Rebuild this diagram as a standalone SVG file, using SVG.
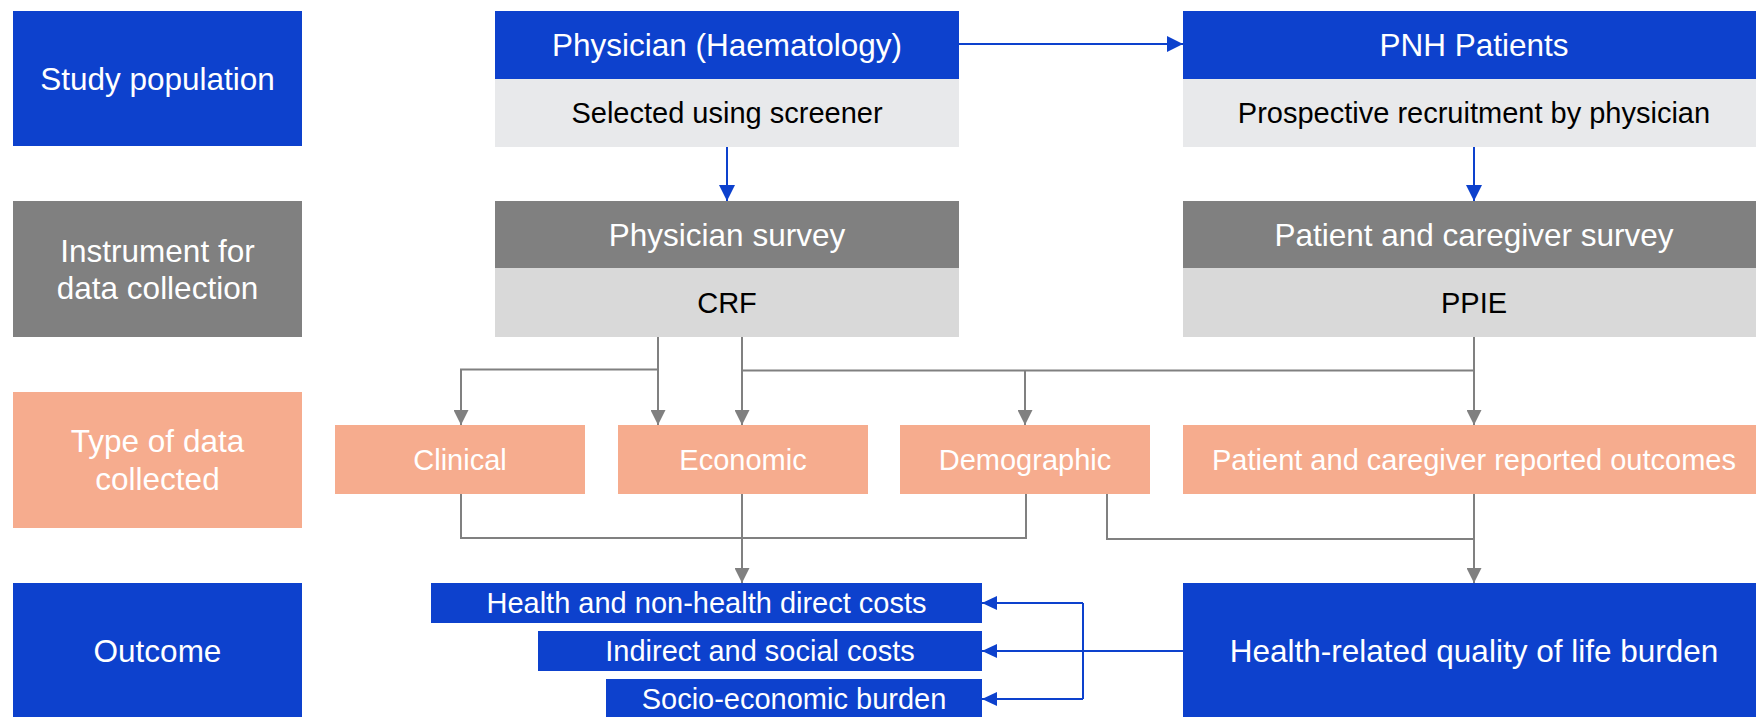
<svg xmlns="http://www.w3.org/2000/svg" width="1756" height="717" viewBox="0 0 1756 717">
  <style>
    text { font-family: "Liberation Sans", Arial, Helvetica, sans-serif; text-anchor: middle; }
    .blue { fill: #0D41CD; }
    .dark { fill: #808080; }
    .pale { fill: #E8E9EB; }
    .light { fill: #D9D9D9; }
    .salmon { fill: #F6AC8E; }
    .hd { font-size: 31.5px; fill: #FFFFFF; }
    .sub { font-size: 29px; fill: #000000; }
    .cat { font-size: 29px; fill: #FFFFFF; }
    .gline { fill: none; stroke: #808080; stroke-width: 2; }
    .bline { fill: none; stroke: #0D41CD; stroke-width: 2; }
  </style>
  <defs>
    <marker id="arrGray" markerUnits="userSpaceOnUse" markerWidth="15" markerHeight="15" refX="15" refY="7.5" orient="auto">
      <path d="M0,0 L15,7.5 L0,15 z" fill="#808080"/>
    </marker>
    <marker id="arrBlue" markerUnits="userSpaceOnUse" markerWidth="16" markerHeight="16" refX="16" refY="8" orient="auto">
      <path d="M0,0 L16,8 L0,16 z" fill="#0D41CD"/>
    </marker>
    <marker id="arrBlueSm" markerUnits="userSpaceOnUse" markerWidth="15" markerHeight="14" refX="15" refY="7" orient="auto">
      <path d="M0,0 L15,7 L0,14 z" fill="#0D41CD"/>
    </marker>
  </defs>

  <rect width="1756" height="717" fill="#FFFFFF"/>

  <!-- Row labels -->
  <g id="label-study-population">
    <rect class="blue" x="13" y="11" width="289" height="135"/>
    <text class="hd" x="157.5" y="89.5">Study population</text>
  </g>
  <g id="label-instrument">
    <rect class="dark" x="13" y="201" width="289" height="136"/>
    <text class="hd" x="157.5" y="261.5">Instrument for</text>
    <text class="hd" x="157.5" y="298.8">data collection</text>
  </g>
  <g id="label-data-type">
    <rect class="salmon" x="13" y="392" width="289" height="136"/>
    <text class="hd" x="157.5" y="452.3">Type of data</text>
    <text class="hd" x="157.5" y="489.8">collected</text>
  </g>
  <g id="label-outcome">
    <rect class="blue" x="13" y="583" width="289" height="136"/>
    <text class="hd" x="157.5" y="662">Outcome</text>
  </g>

  <!-- Study population -->
  <g id="node-physician">
    <rect class="blue" x="495" y="11" width="464" height="68"/>
    <rect class="pale" x="495" y="79" width="464" height="68"/>
    <text class="hd" x="727" y="56">Physician (Haematology)</text>
    <text class="sub" x="727" y="123">Selected using screener</text>
  </g>
  <g id="node-pnh-patients">
    <rect class="blue" x="1183" y="11" width="582" height="68"/>
    <rect class="pale" x="1183" y="79" width="582" height="68"/>
    <text class="hd" x="1474" y="56">PNH Patients</text>
    <text class="sub" x="1474" y="123">Prospective recruitment by physician</text>
  </g>

  <!-- Instruments -->
  <g id="node-physician-survey">
    <rect class="dark" x="495" y="201" width="464" height="67"/>
    <rect class="light" x="495" y="268" width="464" height="69"/>
    <text class="hd" x="727" y="245.5">Physician survey</text>
    <text class="sub" x="727" y="312.8">CRF</text>
  </g>
  <g id="node-patient-survey">
    <rect class="dark" x="1183" y="201" width="582" height="67"/>
    <rect class="light" x="1183" y="268" width="582" height="69"/>
    <text class="hd" x="1474" y="245.5">Patient and caregiver survey</text>
    <text class="sub" x="1474" y="312.8">PPIE</text>
  </g>

  <!-- Data types -->
  <g id="node-clinical">
    <rect class="salmon" x="335" y="425" width="250" height="69"/>
    <text class="cat" x="460" y="470">Clinical</text>
  </g>
  <g id="node-economic">
    <rect class="salmon" x="618" y="425" width="250" height="69"/>
    <text class="cat" x="743" y="470">Economic</text>
  </g>
  <g id="node-demographic">
    <rect class="salmon" x="900" y="425" width="250" height="69"/>
    <text class="cat" x="1025" y="470">Demographic</text>
  </g>
  <g id="node-pcro">
    <rect class="salmon" x="1183" y="425" width="582" height="69"/>
    <text class="cat" x="1474" y="470">Patient and caregiver reported outcomes</text>
  </g>

  <!-- Outcomes -->
  <g id="node-direct-costs">
    <rect class="blue" x="431" y="583" width="551" height="40"/>
    <text class="cat" x="706.5" y="613">Health and non-health direct costs</text>
  </g>
  <g id="node-indirect-costs">
    <rect class="blue" x="538" y="631" width="444" height="40"/>
    <text class="cat" x="760" y="661">Indirect and social costs</text>
  </g>
  <g id="node-socio-economic">
    <rect class="blue" x="606" y="679" width="376" height="40"/>
    <text class="cat" x="794" y="708.5">Socio-economic burden</text>
  </g>
  <g id="node-hrqol">
    <rect class="blue" x="1183" y="583" width="582" height="136"/>
    <text class="hd" x="1474" y="662">Health-related quality of life burden</text>
  </g>

  <!-- Connectors -->
  <g id="connectors">
    <!-- study population flow -->
    <path class="bline" d="M959,44 H1183" marker-end="url(#arrBlue)"/>
    <path class="bline" d="M727,147 V201" marker-end="url(#arrBlue)"/>
    <path class="bline" d="M1474,147 V201" marker-end="url(#arrBlue)"/>

    <!-- instruments to data types -->
    <path class="gline" d="M658,337 V425" marker-end="url(#arrGray)"/>
    <path class="gline" d="M658,369.5 H461 V425" marker-end="url(#arrGray)"/>
    <path class="gline" d="M742,337 V425" marker-end="url(#arrGray)"/>
    <path class="gline" d="M742,370.5 H1474"/>
    <path class="gline" d="M1025,370.5 V425" marker-end="url(#arrGray)"/>
    <path class="gline" d="M1474,337 V425" marker-end="url(#arrGray)"/>

    <!-- data types to outcomes -->
    <path class="gline" d="M461,494 V538 H1026 V494"/>
    <path class="gline" d="M742,494 V583" marker-end="url(#arrGray)"/>
    <path class="gline" d="M1107,494 V539 H1474"/>
    <path class="gline" d="M1474,494 V583" marker-end="url(#arrGray)"/>

    <!-- quality of life burden to economic outcomes -->
    <path class="bline" d="M1183,651 H982" marker-end="url(#arrBlueSm)"/>
    <path class="bline" d="M1083,603 V699"/>
    <path class="bline" d="M1083,603 H982" marker-end="url(#arrBlueSm)"/>
    <path class="bline" d="M1083,699 H982" marker-end="url(#arrBlueSm)"/>
  </g>
</svg>
